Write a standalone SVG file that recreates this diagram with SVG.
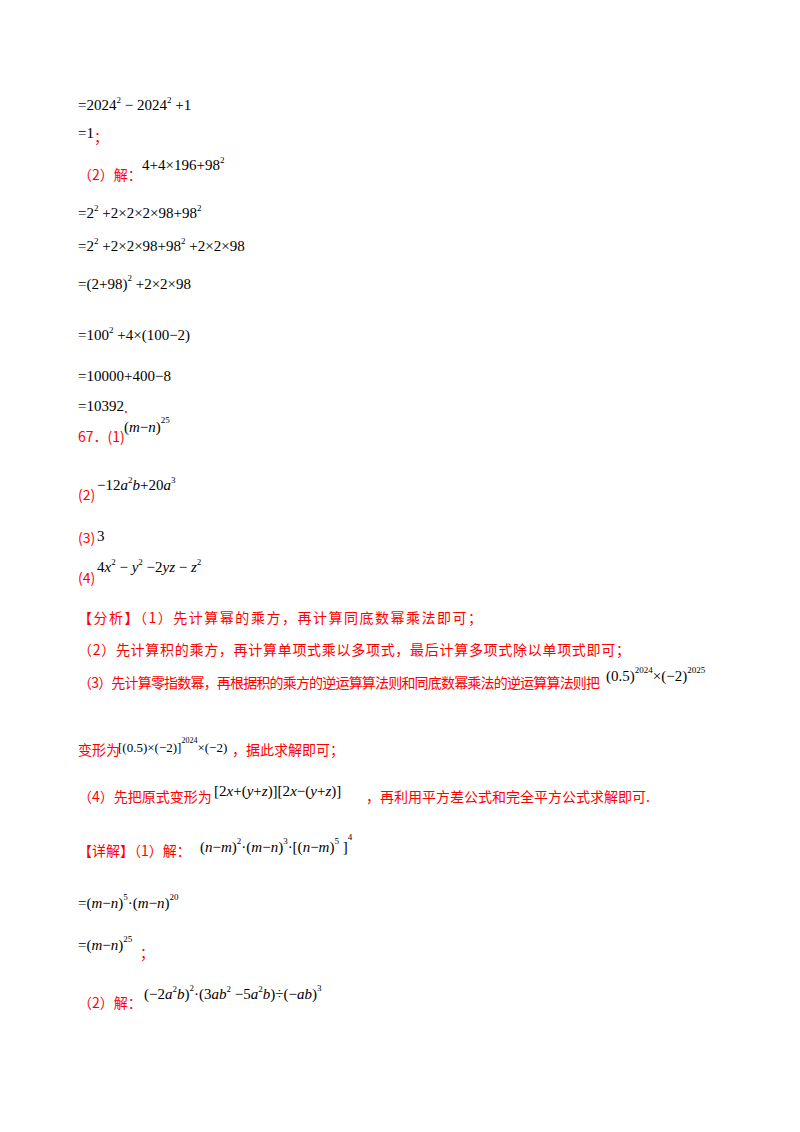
<svg xmlns="http://www.w3.org/2000/svg" width="800" height="1132" viewBox="0 0 800 1132">
<style>
.m{font-family:"Liberation Serif",serif;font-size:15px;fill:#000}
.r{font-family:"Noto Sans CJK SC",sans-serif;font-size:14px;fill:#ff0000}
.i{font-style:italic}
.s{font-size:9px}
</style>
<rect width="800" height="1132" fill="#fff"/>
<g id="part1">
<text class="m" x="78" y="110">=2024<tspan class="s" dy="-7">2</tspan><tspan dy="7"> − 2024</tspan><tspan class="s" dy="-7">2</tspan><tspan dy="7"> +1</tspan></text>
<text class="m" x="78" y="138">=1</text><text class="r" x="94" y="142">；</text>
<text class="r" x="78" y="180">（2）解：</text>
<text class="m" x="142" y="170">4+4×196+98<tspan class="s" dy="-7">2</tspan></text>
<text class="m" x="78" y="218">=2<tspan class="s" dy="-7">2</tspan><tspan dy="7"> +2×2×2×98+98</tspan><tspan class="s" dy="-7">2</tspan></text>
<text class="m" x="78" y="251">=2<tspan class="s" dy="-7">2</tspan><tspan dy="7"> +2×2×98+98</tspan><tspan class="s" dy="-7">2</tspan><tspan dy="7"> +2×2×98</tspan></text>
<text class="m" x="78" y="289">=(2+98)<tspan class="s" dy="-8">2</tspan><tspan dy="8"> +2×2×98</tspan></text>
<text class="m" x="78" y="340">=100<tspan class="s" dy="-7">2</tspan><tspan dy="7"> +4×(100−2)</tspan></text>
<text class="m" x="78" y="381">=10000+400−8</text>
<text class="m" x="78" y="411">=10392</text><text class="r" x="124" y="413">.</text>
</g>
<g id="q67">
<text class="r" x="78" y="442">67．(1)</text>
<text class="m" x="124" y="432">(<tspan class="i">m</tspan>−<tspan class="i">n</tspan>)<tspan class="s" dy="-9">25</tspan></text>
<text class="r" x="78" y="500">(2)</text>
<text class="m" x="97" y="490">−12<tspan class="i">a</tspan><tspan class="s" dy="-7">2</tspan><tspan class="i" dy="7">b</tspan>+20<tspan class="i">a</tspan><tspan class="s" dy="-7">3</tspan></text>
<text class="r" x="78" y="543">(3)</text><text class="m" x="97" y="541">3</text>
<text class="r" x="78" y="583">(4)</text>
<text class="m" x="97" y="572">4<tspan class="i">x</tspan><tspan class="s" dy="-7">2</tspan><tspan dy="7"> − </tspan><tspan class="i">y</tspan><tspan class="s" dy="-7">2</tspan><tspan dy="7"> −2</tspan><tspan class="i">yz</tspan> − <tspan class="i">z</tspan><tspan class="s" dy="-7">2</tspan></text>
</g>
<g id="analysis">
<text class="r" x="78" y="623" textLength="404">【分析】（1）先计算幂的乘方，再计算同底数幂乘法即可；</text>
<text class="r" x="78" y="655" textLength="552">（2）先计算积的乘方，再计算单项式乘以多项式，最后计算多项式除以单项式即可；</text>
<text class="r" x="78" y="688" textLength="522">（3）先计算零指数幂，再根据积的乘方的逆运算算法则和同底数幂乘法的逆运算算法则把</text>
<text class="m" x="606" y="681">(0.5)<tspan class="s" dy="-8">2024</tspan><tspan dy="8">×(−2)</tspan><tspan class="s" dy="-8">2025</tspan></text>
<text class="r" x="78" y="755">变形为</text>
<text class="m" x="118" y="752" style="font-size:13px">[(0.5)×(−2)]<tspan class="s" dy="-9" style="font-size:8px">2024</tspan><tspan dy="9">×(−2)</tspan></text>
<text class="r" x="232" y="755">，据此求解即可；</text>
<text class="r" x="78" y="802">（4）先把原式变形为</text>
<text class="m" x="214" y="796">[2<tspan class="i">x</tspan>+(<tspan class="i">y</tspan>+<tspan class="i">z</tspan>)][2<tspan class="i">x</tspan>−(<tspan class="i">y</tspan>+<tspan class="i">z</tspan>)]</text>
<text class="r" x="366" y="802">，再利用平方差公式和完全平方公式求解即可.</text>
</g>
<g id="detail">
<text class="r" x="78" y="856">【详解】（1）解：</text>
<text class="m" x="200" y="852">(<tspan class="i">n</tspan>−<tspan class="i">m</tspan>)<tspan class="s" dy="-8">2</tspan><tspan dy="8">·(</tspan><tspan class="i">m</tspan>−<tspan class="i">n</tspan>)<tspan class="s" dy="-8">3</tspan><tspan dy="8">·[(</tspan><tspan class="i">n</tspan>−<tspan class="i">m</tspan>)<tspan class="s" dy="-8">5</tspan><tspan dy="8"> ]</tspan><tspan class="s" dy="-12">4</tspan></text>
<text class="m" x="78" y="908">=(<tspan class="i">m</tspan>−<tspan class="i">n</tspan>)<tspan class="s" dy="-8">5</tspan><tspan dy="8">·(</tspan><tspan class="i">m</tspan>−<tspan class="i">n</tspan>)<tspan class="s" dy="-8">20</tspan></text>
<text class="m" x="78" y="950">=(<tspan class="i">m</tspan>−<tspan class="i">n</tspan>)<tspan class="s" dy="-8">25</tspan></text>
<text class="r" x="140" y="958">；</text>
<text class="r" x="78" y="1008">（2）解：</text>
<text class="m" x="144" y="999">(−2<tspan class="i">a</tspan><tspan class="s" dy="-7">2</tspan><tspan class="i" dy="7">b</tspan>)<tspan class="s" dy="-8">2</tspan><tspan dy="8">·(3</tspan><tspan class="i">ab</tspan><tspan class="s" dy="-7">2</tspan><tspan dy="7"> −5</tspan><tspan class="i">a</tspan><tspan class="s" dy="-7">2</tspan><tspan class="i" dy="7">b</tspan>)÷(−<tspan class="i">ab</tspan>)<tspan class="s" dy="-8">3</tspan></text>
</g>
</svg>
